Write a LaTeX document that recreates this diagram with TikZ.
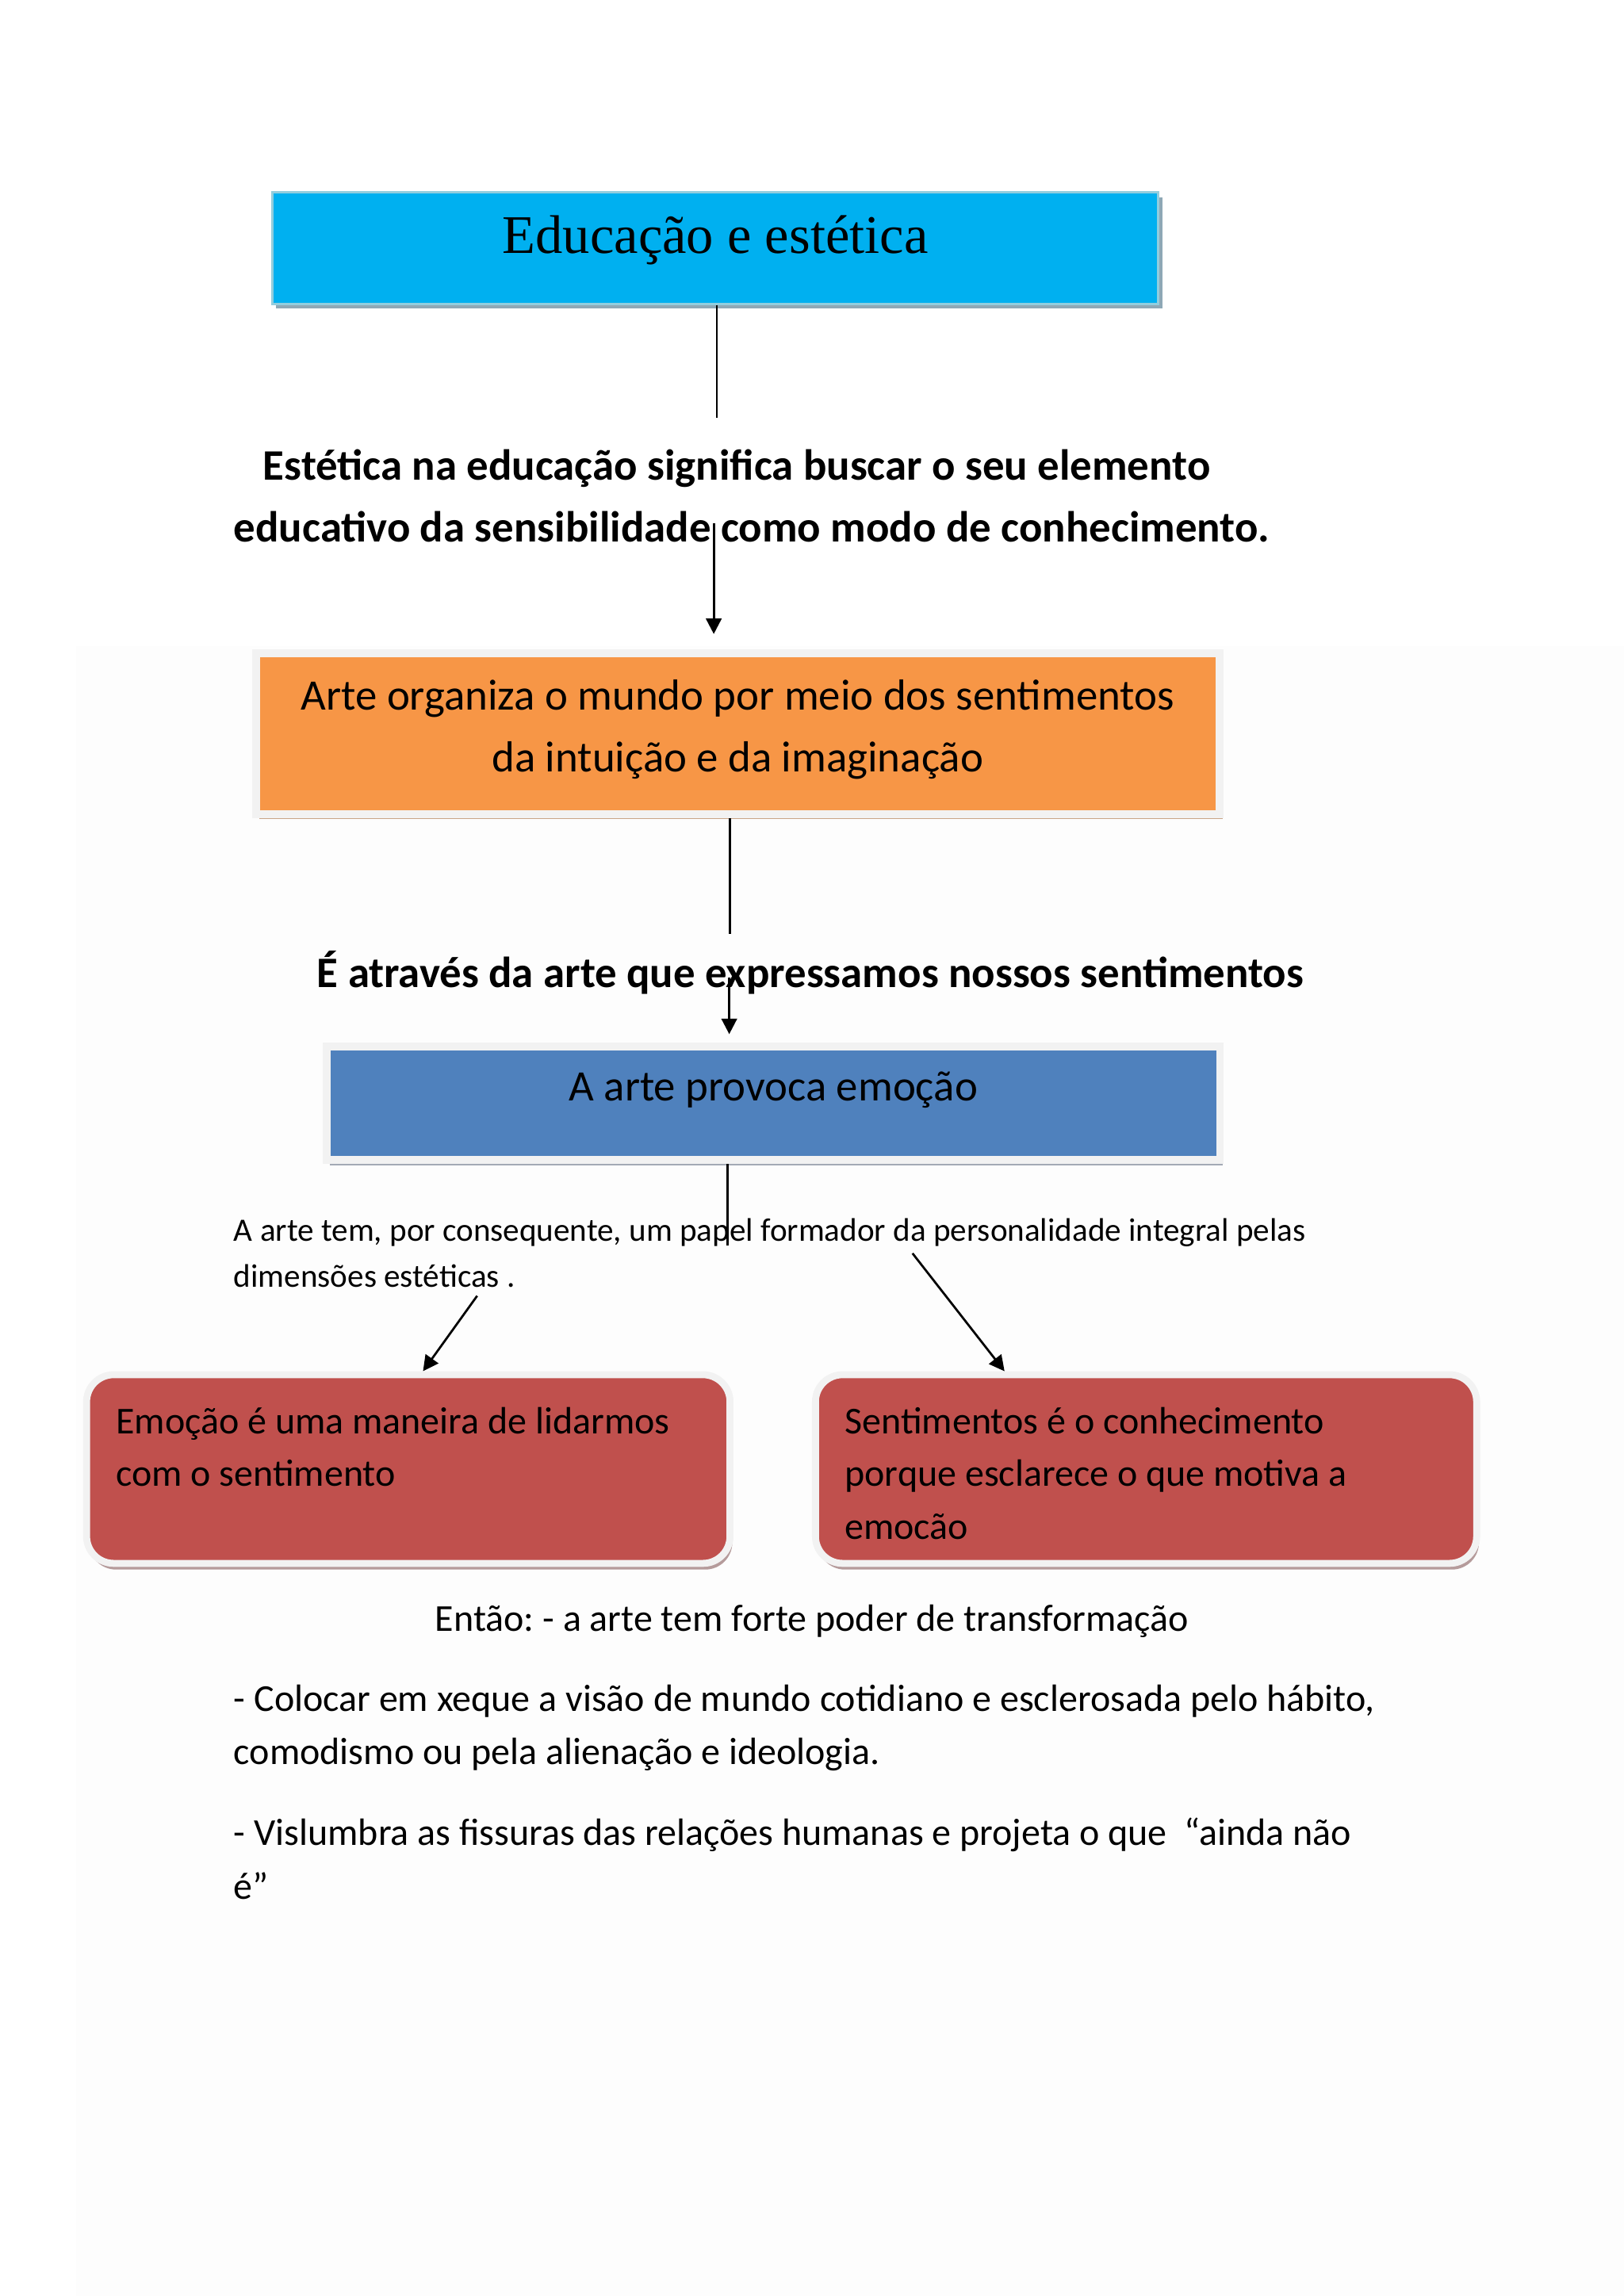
\documentclass[tikz,border=0pt]{standalone}
\usepackage{fontspec}
\setmainfont{Carlito}
\newfontfamily\timesfont{Liberation Serif}
\usetikzlibrary{shadows, arrows.meta}

\definecolor{headblue}{HTML}{00B0F0}
\definecolor{headedge}{HTML}{93CDDD}
\definecolor{headshade}{HTML}{8EA8B6}
\definecolor{orangefill}{HTML}{F79646}
\definecolor{orangeshade}{HTML}{C9A588}
\definecolor{bluefill}{HTML}{4F81BD}
\definecolor{blueshade}{HTML}{A3AAB5}
\definecolor{redfill}{HTML}{C0504D}
\definecolor{redshade}{HTML}{B59B9B}
\definecolor{paleedge}{HTML}{F2F2F2}

\begin{document}
\begin{tikzpicture}[>={Triangle[length=2mm, width=2mm]}, thick,
        every node/.style={execute at begin node={\spaceskip=\fontdimen2\font\xspaceskip=\fontdimen2\font}},
        headbox/.style={rectangle, fill=headblue, draw=headedge, line width=0.03cm, inner sep=0pt,
            minimum width=11.46cm, text height=0.79cm, text depth=0.65cm,
            font=\timesfont\fontsize{20}{24}\selectfont,
            drop shadow={shadow xshift=0.05cm, shadow yshift=-0.06cm, fill=headshade, opacity=1}},
        rectbox/.style={rectangle, draw=paleedge, line width=0.1cm, inner sep=0pt, align=center,
            font=\fontsize{16}{22.7}\selectfont},
        roundbox/.style={rectangle, rounded corners=0.35cm, fill=redfill, draw=paleedge, line width=0.09cm,
            inner xsep=0.38cm, inner ysep=0pt, align=left, text height=0.76cm, text depth=1.68cm,
            font=\fontsize{14}{19.5}\selectfont,
            drop shadow={shadow xshift=0.03cm, shadow yshift=-0.08cm, fill=redshade, opacity=1}},
        boldtext/.style={inner sep=0pt, align=left, font=\fontsize{16}{22.7}\selectfont\bfseries},
        plaintext/.style={inner sep=0pt, align=left, font=\fontsize{14}{19.6}\selectfont}
    ]
    \useasboundingbox (0,0) rectangle (21,-29.696);
    \fill[black!0.8] (0.98,-8.36) rectangle (21,-29.696);

    % Title
    \node[headbox] (head) at (9.25,-3.21) {Educação e estética};
    \draw ([xshift=0.02cm]head.south) -- ++(0,-1.46);

    % First statement
    \node[boldtext, anchor=base west, text width=15cm] (aim) at (3.01,-6.21)
        {\hspace*{0.38cm}Estética na educação significa buscar o seu elemento\\
         educativo da sensibilidade como modo de conhecimento.};
    \coordinate (a1) at (9.23,-6.77);

    % Orange block
    \node[rectbox, fill=orangefill, text width=12.46cm, text height=0.73cm, text depth=1.35cm,
          drop shadow={shadow xshift=0.04cm, shadow yshift=-0.06cm, fill=orangeshade, opacity=1}]
        (organiza) at (9.54,-9.49)
        {Arte organiza o mundo por meio dos sentimentos\\da intuição e da imaginação};
    \draw[->, shorten >=0.2cm] (a1) -- (a1 |- organiza.north);
    \draw ([xshift=-0.1cm]organiza.south) -- ++(0,-1.5);

    % Second statement
    \node[boldtext, anchor=base] (via) at (10.48,-12.77)
        {É através da arte que expressamos nossos sentimentos};
    \coordinate (a2) at (9.43,-12.64);

    % Blue block
    \node[rectbox, fill=bluefill, minimum width=11.55cm, text height=0.70cm, text depth=0.77cm,
          drop shadow={shadow xshift=0.04cm, shadow yshift=-0.07cm, fill=blueshade, opacity=1}]
        (provoca) at (10.0,-14.27) {A arte provoca emoção};
    \draw[->, shorten >=0.11cm] (a2) -- (a2 |- provoca.north);
    \draw ([xshift=-0.59cm]provoca.south) -- ++(0,-1.05);

    % Small note
    \node[plaintext, anchor=base west, text width=18cm, font=\fontsize{12}{16.9}\selectfont]
        (papel) at (3.01,-16.05)
        {A arte tem, por consequente, um papel formador da personalidade integral pelas\\
         dimensões estéticas .};
    \coordinate (a3) at (6.17,-16.76);
    \coordinate (a4) at (11.80,-16.21);

    % Red blocks
    \node[roundbox, text width=7.56cm] (emocao) at (5.28,-19.0)
        {Emoção é uma maneira de lidarmos\\com o sentimento};
    \node[roundbox, text width=7.79cm] (sentimento) at (14.82,-19.0)
        {Sentimentos é o conhecimento\\porque esclarece o que motiva a\\emocão};
    \draw[->] (a3) -- (emocao.north -| 5.47,0);
    \draw[->] (a4) -- (sentimento.north -| 12.99,0);

    % Closing text
    \node[plaintext, anchor=base] (entao) at (10.5,-21.1)
        {Então: - a arte tem forte poder de transformação};
    \node[plaintext, anchor=base west, text width=17cm] (xeque) at (3.01,-22.13)
        {- Colocar em xeque a visão de mundo cotidiano e esclerosada pelo hábito,\\
         comodismo ou pela alienação e ideologia.};
    \node[plaintext, anchor=base west, text width=17cm] (fissuras) at (3.01,-23.87)
        {- Vislumbra as fissuras das relações humanas e projeta o que\ \ “ainda não\\é”};

\end{tikzpicture}
\end{document}
